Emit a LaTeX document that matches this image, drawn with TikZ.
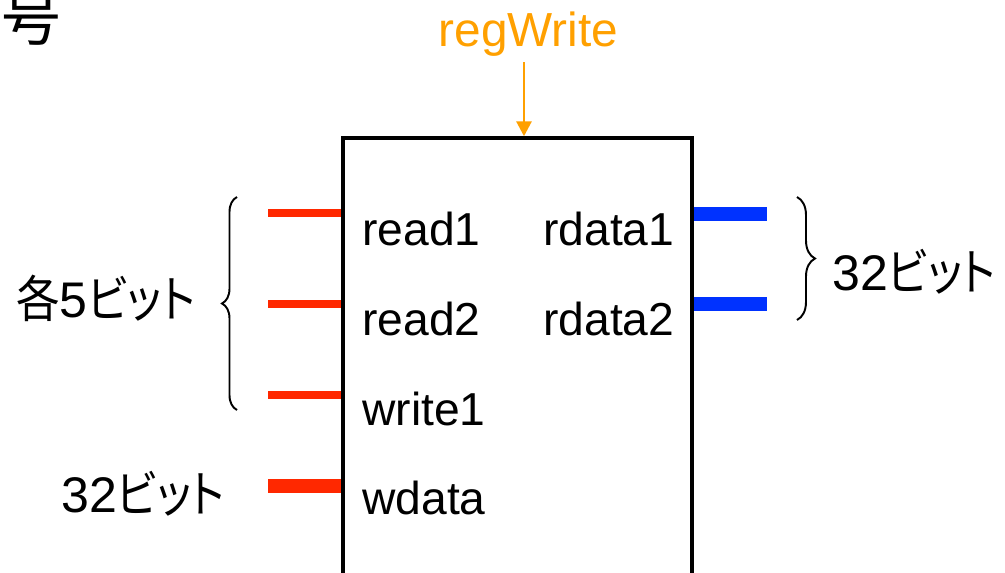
\documentclass[tikz,border=0pt]{standalone}
\usepackage{fontspec}
\setmainfont{Liberation Sans}
\newfontfamily\jpfont[RawFeature=+palt, FakeStretch=0.87]{Noto Sans CJK JP}
\newfontfamily\jptitle{Noto Sans CJK JP}
\usepackage{xcolor}
\usetikzlibrary{arrows.meta, positioning, calc, decorations.pathreplacing}
\definecolor{ctrlOrange}{RGB}{255, 160, 0}
\definecolor{busRed}{RGB}{255, 40, 0}
\definecolor{busBlue}{RGB}{0, 50, 255}

\begin{document}
\begin{tikzpicture}[
        x=0.02cm, y=-0.02cm,
        font=\fontsize{26.3}{30}\selectfont,
        regfile/.style={rectangle, draw=black, line width=2pt, minimum width=6.98cm, minimum height=9.8cm, inner sep=0pt},
        port/.style={anchor=base west, inner sep=0pt},
        bitlabel/.style={anchor=base west, inner sep=0pt, font=\fontsize{28.5}{32}\selectfont},
        addrbus/.style={busRed, line width=4pt},
        databus/.style={busRed, line width=8pt},
        outbus/.style={busBlue, line width=8.5pt},
        ctrl/.style={-{Triangle[length=0.3cm, width=0.3cm]}, ctrlOrange, line width=1.6pt},
        bracket/.style={decorate, decoration={brace, amplitude=#1}, line width=1.1pt},
        bracket/.default=0.3cm
    ]
        \useasboundingbox (0,0) rectangle (1005,572);

        % title fragment
        \node[anchor=base west, inner sep=0pt, font=\fontsize{34}{36}\jptitle] (title) at (1,40) {号};

        % register file body
        \node[regfile] (rf) at (517.5,383) {};

        % port names
        \node[port] (read1) at (362,245) {read1};
        \node[port] (read2) at (362,335) {read2};
        \node[port] (write1) at (362,425) {write1};
        \node[port] (wdata) at (362,514) {wdata};
        \node[port] (rdata1) at (543,245) {rdata1};
        \node[port] (rdata2) at (543,335) {rdata2};

        % control input
        \node[anchor=base, inner sep=0pt, text=ctrlOrange, font=\fontsize{27.2}{30}\selectfont] (regwrite) at (528.5,46) {regWrite};
        \coordinate (wrIn) at (524,62);
        \draw[ctrl] (wrIn) -- (wrIn |- rf.north);

        % input buses
        \coordinate (in1) at (268,213);
        \coordinate (in2) at (268,304);
        \coordinate (in3) at (268,395);
        \coordinate (in4) at (268,486);
        \draw[addrbus] (in1) -- (in1 -| rf.west);
        \draw[addrbus] (in2) -- (in2 -| rf.west);
        \draw[addrbus] (in3) -- (in3 -| rf.west);
        \draw[databus] (in4) -- (in4 -| rf.west);

        % output buses
        \coordinate (out1) at (767,214);
        \coordinate (out2) at (767,304);
        \draw[outbus] (out1 -| rf.east) -- (out1);
        \draw[outbus] (out2 -| rf.east) -- (out2);

        % widths
        \coordinate (lbTop) at (237,197);
        \coordinate (lbBot) at (237,410);
        \draw[bracket] (lbBot) -- (lbTop);
        \node[bitlabel] (addrw) at (16,317) {{\jpfont 各}5{\jpfont ビット}};

        \coordinate (rbTop) at (797,197);
        \coordinate (rbBot) at (797,320);
        \draw[bracket=0.36cm] (rbTop) -- (rbBot);
        \node[bitlabel] (rdataw) at (832,290) {32{\jpfont ビット}};

        \node[bitlabel] (wdataw) at (61,512) {32{\jpfont ビット}};
    \end{tikzpicture}
\end{document}
